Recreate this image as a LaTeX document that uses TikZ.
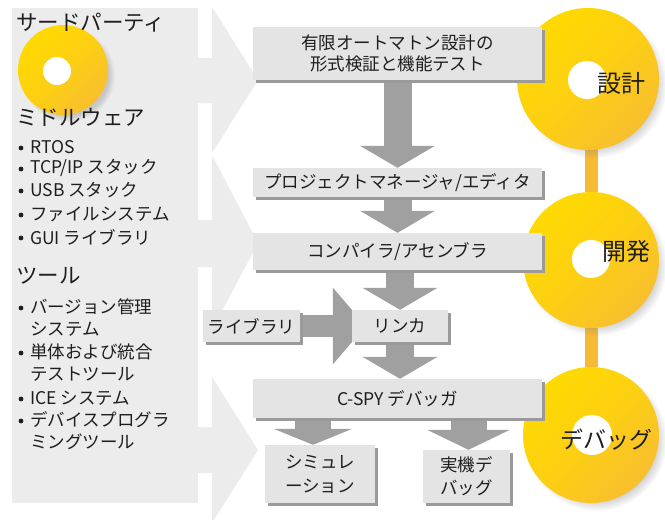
\documentclass[tikz,border=0pt]{standalone}
\usepackage{fontspec}
\setmainfont{Noto Sans CJK JP}
\usetikzlibrary{arrows.meta,shadows,calc}
\pgfdeclarelayer{back}\pgfdeclarelayer{mid}
\pgfsetlayers{back,mid,main}
\definecolor{panel}{HTML}{ECECEC}
\definecolor{boxfill}{HTML}{E4E4E4}
\definecolor{boxshadow}{HTML}{9A9A9A}
\definecolor{flow}{HTML}{A0A0A0}
\definecolor{ylight}{HTML}{FFDA00}
\definecolor{ydark}{HTML}{F8BF2E}
\definecolor{barcol}{HTML}{F7BA34}
\definecolor{txt}{HTML}{1E1E1E}
\begin{document}
\begin{tikzpicture}[x=1pt,y=-1pt,
  box/.style={fill=boxfill, inner sep=0pt, align=center, text=txt,
    font=\fontsize{17.5}{21}\selectfont,
    general shadow={fill=boxshadow, shadow xshift=3pt, shadow yshift=-3pt}},
  ycirc/.style={circle, inner sep=0pt, top color=ylight, bottom color=ydark, middle color=ylight!60!ydark, shading angle=45,
    circular drop shadow={shadow xshift=5pt, shadow yshift=-5pt, shadow scale=1.04, opacity=0.35}},
  hole/.style={circle, inner sep=0pt, fill=white},
  clabel/.style={inner sep=0pt, text=txt, font=\fontsize{23}{23}\selectfont},
  heading/.style={anchor=west, inner sep=0pt, text=txt, font=\fontsize{21.5}{21.5}\selectfont},
  item/.style={anchor=west, inner sep=0pt, text=txt, font=\fontsize{17.5}{17.5}\selectfont},
  bul/.style={fill=txt},
  flowarrow/.style={draw=flow, line width=28pt, -{Triangle[width=74pt,length=22pt]}},
  bar/.style={draw=barcol, line width=13pt}
]
\useasboundingbox (0,0) rectangle (665,520);

% left panel and background arrows
\begin{pgfonlayer}{back}
\fill[white] (0,0) rectangle (665,520);
\fill[panel] (12,8) rectangle (198,503);
\fill[panel] (196,58) -- (212,58) -- (212,7) -- (258,80) -- (212,153) -- (212,103) -- (196,103) -- cycle;
\fill[panel] (196,220) -- (212,220) -- (212,155) -- (258,243) -- (212,330) -- (212,267) -- (196,267) -- cycle;
\fill[panel] (196,427) -- (212,427) -- (212,377) -- (258,450) -- (212,523) -- (212,473) -- (196,473) -- cycle;
\end{pgfonlayer}

% left decoration circle
\node[ycirc, minimum size=90pt] (lc) at (63,70) {};
\node[hole, minimum size=28pt] (lh) at (57,71) {};

% left texts
\node[heading] (hd1) at (16,23) {サードパーティ};
\node[heading] (hd2) at (16,117) {ミドルウェア};
\node[heading] (hd3) at (16,276) {ツール};

\fill[bul] (21,148) circle[radius=2.4pt];
\node[item] (m1) at (30,147) {RTOS};
\fill[bul] (21,169) circle[radius=2.4pt];
\node[item] (m2) at (30,168) {TCP/IP スタック};
\fill[bul] (21,191) circle[radius=2.4pt];
\node[item] (m3) at (30,190) {USB スタック};
\fill[bul] (21,215) circle[radius=2.4pt];
\node[item] (m4) at (30,214) {ファイルシステム};
\fill[bul] (21,238) circle[radius=2.4pt];
\node[item] (m5) at (30,237) {GUI ライブラリ};

\fill[bul] (21,308) circle[radius=2.4pt];
\node[item] (t1) at (30,307) {バージョン管理};
\node[item] (t1b) at (30,329) {システム};
\fill[bul] (21,353) circle[radius=2.4pt];
\node[item] (t2) at (30,352) {単体および統合};
\node[item] (t2b) at (30,374) {テストツール};
\fill[bul] (21,399) circle[radius=2.4pt];
\node[item] (t3) at (30,398) {ICE システム};
\fill[bul] (21,421) circle[radius=2.4pt];
\node[item] (t4) at (30,420) {デバイスプログラ};
\node[item] (t4b) at (30,442) {ミングツール};

% right phase circles
\node[ycirc, minimum size=142pt] (c1) at (588,79) {};
\node[ycirc, minimum size=136pt] (c2) at (591,260) {};
\node[ycirc, minimum size=136pt] (c3) at (591,435) {};
\node[hole, minimum size=38pt] (h1) at (587,80) {};
\node[hole, minimum size=38pt] (h2) at (591,259) {};
\node[hole, minimum size=40pt] (h3) at (592,435) {};
\node[clabel, font=\fontsize{24}{24}\selectfont] (l1) at (621,83) {設計};
\node[clabel, font=\fontsize{24}{24}\selectfont] (l2) at (626,251) {開発};
\node[clabel] (l3) at (606,440) {デバッグ};
\begin{pgfonlayer}{back}
\draw[bar] (c2 |- c1) -- (c2);
\draw[bar] (c2) -- (c3);
\end{pgfonlayer}

% flow boxes
\node[box, minimum width=289pt, minimum height=53pt] (b1) at (397.5,53.5) {有限オートマトン設計の\\形式検証と機能テスト};
\node[box, minimum width=289pt, minimum height=29pt] (b2) at (397.5,182.5) {プロジェクトマネージャ/エディタ};
\node[box, minimum width=289pt, minimum height=37pt] (b3) at (397.5,251.5) {コンパイラ/アセンブラ};
\node[box, minimum width=96pt, minimum height=32pt] (lk) at (400,326) {リンカ};
\node[box, minimum width=97pt, minimum height=32pt] (lib) at (251.5,326) {ライブラリ};
\node[box, minimum width=289pt, minimum height=39pt] (cs) at (397.5,398.5) {C-SPY デバッガ};
\node[box, minimum width=110pt, minimum height=58pt, font=\fontsize{17.5}{24}\selectfont] (sim) at (320,474) {シミュレ\\ーション};
\node[box, minimum width=87pt, minimum height=53pt, font=\fontsize{17.5}{23}\selectfont] (real) at (466.5,476.5) {実機デ\\バッグ};

% flow arrows
\begin{pgfonlayer}{mid}
\draw[flowarrow] (b1.south) -- (b2.north);
\draw[flowarrow] (b2.south) -- (b3.north);
\draw[flowarrow] (lk.north |- b3.south) -- (lk.north);
\draw[flowarrow] (lk.south) -- (lk.south |- cs.north);
\draw[draw=flow, line width=22pt, -{Triangle[width=75pt,length=33pt]}] (lib.east) -- ([xshift=14pt]lk.west);
\draw[draw=flow, line width=36pt, -{Triangle[width=78pt,length=16pt]}] ([xshift=-7pt]sim.north |- cs.south) -- ([xshift=-7pt]sim.north);
\draw[draw=flow, line width=36pt, -{Triangle[width=82pt,length=20pt]}] ([xshift=2pt]real.north |- cs.south) -- ([xshift=2pt]real.north);
\end{pgfonlayer}
\end{tikzpicture}
\end{document}
